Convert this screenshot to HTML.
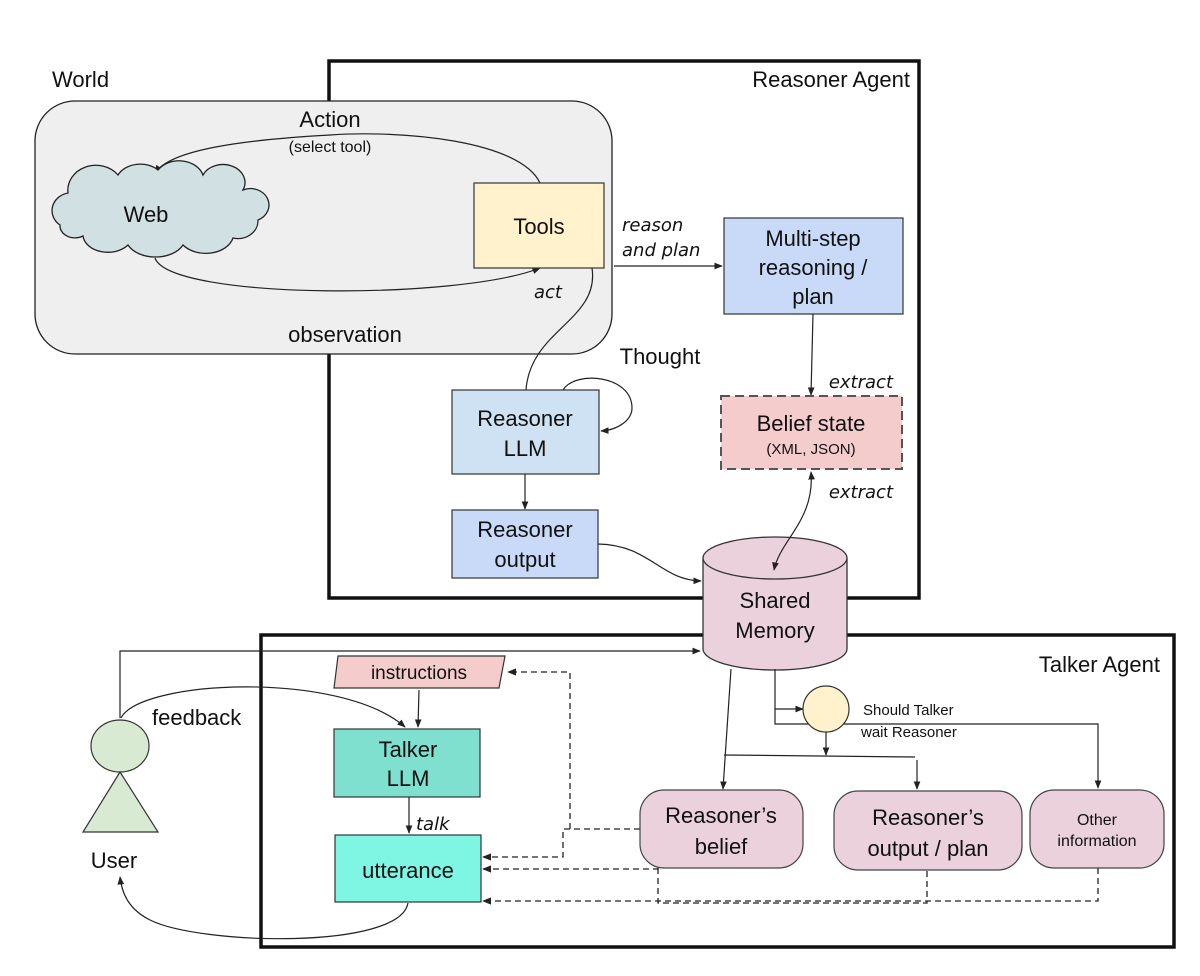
<!DOCTYPE html>
<html><head><meta charset="utf-8"><style>
html,body{margin:0;padding:0;background:#fff;}
svg{display:block;font-family:"Liberation Sans",sans-serif;}
.i{font-family:"DejaVu Sans","Liberation Sans",sans-serif;font-style:italic;}
</style></head><body>
<svg width="1200" height="976" viewBox="0 0 1200 976" xmlns="http://www.w3.org/2000/svg">
<defs>
<marker id="a" viewBox="0 0 10 10" refX="9" refY="5" markerWidth="7" markerHeight="7" orient="auto-start-reverse"><path d="M0,1 L10,5 L0,9 Z" fill="#222"/></marker>
</defs>
<rect width="1200" height="976" fill="#fff"/>
<rect x="329" y="61" width="590" height="537" fill="none" stroke="#111" stroke-width="3.5"/>
<text x="910" y="87" font-size="22" text-anchor="end" fill="#111">Reasoner Agent</text>
<text x="52" y="87" font-size="22" fill="#111">World</text>
<rect x="35" y="101" width="577" height="253" rx="40" fill="#efefef" stroke="#222" stroke-width="1.3"/>
<text x="330" y="127" font-size="22" text-anchor="middle" fill="#111">Action</text>
<text x="330" y="152" font-size="16" text-anchor="middle" fill="#111">(select tool)</text>
<text x="345" y="342" font-size="22" text-anchor="middle" fill="#111">observation</text>
<path d="M540,183 C520,140 400,130 330,135 C240,140 170,150 155,173" fill="none" stroke="#222" stroke-width="1.2" marker-end="url(#a)"/>
<path d="M155,258 C170,300 460,300 540,268" fill="none" stroke="#222" stroke-width="1.2" marker-end="url(#a)"/>
<text x="548" y="298" font-size="18" class="i" text-anchor="middle" fill="#111">act</text>
<path d="M60,225 a20,18 0 0 1 8,-32 a28,25 0 0 1 50,-18 a25,20 0 0 1 40,-5 a25,20 0 0 1 45,5 a22,18 0 0 1 40,15 a18,16 0 0 1 15,30 a20,18 0 0 1 -25,18 a28,20 0 0 1 -50,7 a30,20 0 0 1 -55,0 a25,18 0 0 1 -45,-9 a15,12 0 0 1 -23,-11 Z" fill="#d0e0e3" stroke="#222" stroke-width="1.3"/>
<text x="146" y="222" font-size="22" text-anchor="middle" fill="#111">Web</text>
<rect x="474" y="183" width="130" height="85" fill="#fff2cc" stroke="#333" stroke-width="1.2"/>
<text x="539" y="234" font-size="22" text-anchor="middle" fill="#111">Tools</text>
<line x1="614" y1="266" x2="722" y2="266" stroke="#222" stroke-width="1.2" marker-end="url(#a)"/>
<text x="622" y="231" font-size="18" class="i" fill="#111">reason</text>
<text x="622" y="256" font-size="18" class="i" fill="#111">and plan</text>
<rect x="724" y="218" width="179" height="96" fill="#c9daf8" stroke="#333" stroke-width="1.2"/>
<text x="813" y="246" font-size="22" text-anchor="middle" fill="#111">Multi-step</text>
<text x="813" y="275" font-size="22" text-anchor="middle" fill="#111">reasoning /</text>
<text x="813" y="304" font-size="22" text-anchor="middle" fill="#111">plan</text>
<line x1="813" y1="314" x2="811" y2="395" stroke="#222" stroke-width="1.2" marker-end="url(#a)"/>
<text x="893" y="388" font-size="18" class="i" text-anchor="end" fill="#111">extract</text>
<rect x="721" y="396" width="181" height="73" fill="#f4cccc" stroke="#555" stroke-width="2" stroke-dasharray="9,5"/>
<text x="811" y="431" font-size="22" text-anchor="middle" fill="#111">Belief state</text>
<text x="811" y="454" font-size="15" text-anchor="middle" fill="#111">(XML, JSON)</text>
<text x="893" y="498" font-size="18" class="i" text-anchor="end" fill="#111">extract</text>
<path d="M592,268 C600,320 530,330 526,390" fill="none" stroke="#222" stroke-width="1.2"/>
<text x="660" y="364" font-size="22" text-anchor="middle" fill="#111">Thought</text>
<rect x="452" y="390" width="147" height="84" fill="#cfe2f3" stroke="#333" stroke-width="1.2"/>
<text x="525" y="426" font-size="22" text-anchor="middle" fill="#111">Reasoner</text>
<text x="525" y="456" font-size="22" text-anchor="middle" fill="#111">LLM</text>
<path d="M563,390 C575,370 632,375 632,408 C632,420 618,430 601,431" fill="none" stroke="#222" stroke-width="1.2" marker-end="url(#a)"/>
<line x1="525" y1="474" x2="525" y2="509" stroke="#222" stroke-width="1.2" marker-end="url(#a)"/>
<rect x="452" y="510" width="146" height="68" fill="#c9daf8" stroke="#333" stroke-width="1.2"/>
<text x="525" y="537" font-size="22" text-anchor="middle" fill="#111">Reasoner</text>
<text x="525" y="567" font-size="22" text-anchor="middle" fill="#111">output</text>
<path d="M598,544 C650,545 660,580 701,581" fill="none" stroke="#222" stroke-width="1.2" marker-end="url(#a)"/>
<rect x="261" y="635" width="913" height="312" fill="none" stroke="#111" stroke-width="3.5"/>
<text x="1160" y="672" font-size="22" text-anchor="end" fill="#111">Talker Agent</text>
<path d="M703,558 L703,649 A72,21 0 0 0 847,649 L847,558" fill="#ead1dc" stroke="#333" stroke-width="1.3"/>
<ellipse cx="775" cy="558" rx="72" ry="21" fill="#ead1dc" stroke="#333" stroke-width="1.3"/>
<text x="775" y="608" font-size="22" text-anchor="middle" fill="#111">Shared</text>
<text x="775" y="638" font-size="22" text-anchor="middle" fill="#111">Memory</text>
<path d="M811,472 C815,520 780,540 774,570" fill="none" stroke="#222" stroke-width="1.2" marker-start="url(#a)" marker-end="url(#a)"/>
<polyline points="120,718 120,651 700,651" fill="none" stroke="#222" stroke-width="1.2" marker-end="url(#a)"/>
<path d="M120,772 L158,832 L83,832 Z" fill="#d9ead3" stroke="#333" stroke-width="1.2"/>
<ellipse cx="120" cy="746" rx="29" ry="26" fill="#d9ead3" stroke="#333" stroke-width="1.2"/>
<text x="114" y="868" font-size="22" text-anchor="middle" fill="#111">User</text>
<text x="152" y="725" font-size="22" fill="#111">feedback</text>
<path d="M121,718 C140,680 340,670 405,727" fill="none" stroke="#222" stroke-width="1.2" marker-end="url(#a)"/>
<path d="M338,656 L505,656 L499,688 L334,688 Z" fill="#f4cccc" stroke="#333" stroke-width="1.2"/>
<text x="419" y="679" font-size="19" text-anchor="middle" fill="#111">instructions</text>
<line x1="419" y1="690" x2="418" y2="727" stroke="#222" stroke-width="1.2" marker-end="url(#a)"/>
<rect x="334" y="729" width="146" height="68" fill="#7fe0d0" stroke="#333" stroke-width="1.2"/>
<text x="408" y="757" font-size="22" text-anchor="middle" fill="#111">Talker</text>
<text x="408" y="786" font-size="22" text-anchor="middle" fill="#111">LLM</text>
<line x1="409" y1="797" x2="409" y2="833" stroke="#222" stroke-width="1.2" marker-end="url(#a)"/>
<text x="416" y="830" font-size="18" class="i" fill="#111">talk</text>
<rect x="335" y="835" width="146" height="67" fill="#7ff5e4" stroke="#333" stroke-width="1.2"/>
<text x="408" y="878" font-size="22" text-anchor="middle" fill="#111">utterance</text>
<path d="M408,903 C400,950 200,945 150,920 C130,910 122,895 120,877" fill="none" stroke="#222" stroke-width="1.2" marker-end="url(#a)"/>
<g fill="none" stroke="#222" stroke-width="1.3" stroke-dasharray="6,4">
<polyline points="640,829 570,829 570,672 508,672" marker-end="url(#a)"/>
<polyline points="570,829 563,829 563,857 483,857" marker-end="url(#a)"/>
<polyline points="658,868 658,869 483,869" marker-end="url(#a)"/>
<polyline points="658,868 658,903 927,903 927,870"/>
<polyline points="1098,868 1098,901 483,901" marker-end="url(#a)"/>
</g>
<g fill="none" stroke="#222" stroke-width="1.2">
<polyline points="731,669 723,789" marker-end="url(#a)"/>
<polyline points="724,755 915,757"/>
<line x1="917" y1="760" x2="917" y2="789" marker-end="url(#a)"/>
<polyline points="775,669 775,709 803,709" marker-end="url(#a)"/>
<polyline points="775,709 775,724 1098,724 1098,788" marker-end="url(#a)"/>
<line x1="826" y1="730" x2="826" y2="755" marker-end="url(#a)"/>
</g>
<ellipse cx="826" cy="709" rx="23" ry="23" fill="#fff2cc" stroke="#333" stroke-width="1.2"/>
<text x="863" y="715" font-size="15" fill="#111">Should Talker</text>
<text x="861" y="737" font-size="15" fill="#111">wait Reasoner</text>
<rect x="640" y="790" width="163" height="78" rx="24" fill="#ead1dc" stroke="#444" stroke-width="1.2"/>
<text x="721" y="823" font-size="22" text-anchor="middle" fill="#111">Reasoner’s</text>
<text x="721" y="854" font-size="22" text-anchor="middle" fill="#111">belief</text>
<rect x="834" y="791" width="188" height="79" rx="24" fill="#ead1dc" stroke="#444" stroke-width="1.2"/>
<text x="928" y="825" font-size="22" text-anchor="middle" fill="#111">Reasoner’s</text>
<text x="928" y="856" font-size="22" text-anchor="middle" fill="#111">output / plan</text>
<rect x="1030" y="790" width="134" height="78" rx="24" fill="#ead1dc" stroke="#444" stroke-width="1.2"/>
<text x="1097" y="825" font-size="16" text-anchor="middle" fill="#111">Other</text>
<text x="1097" y="846" font-size="16" text-anchor="middle" fill="#111">information</text>
</svg>
</body></html>
